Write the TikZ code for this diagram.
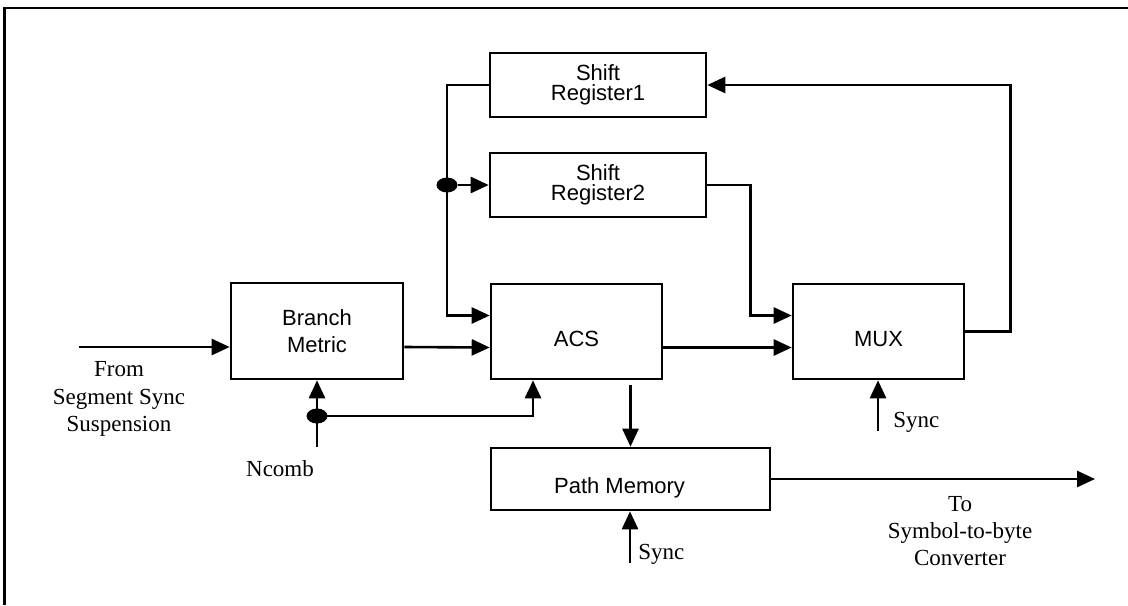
\documentclass[tikz,border=0pt]{standalone}
\usepackage{fontspec}
\setmainfont{Liberation Serif}
\setsansfont{Liberation Sans}
\usetikzlibrary{arrows.meta}
\usetikzlibrary{shapes.geometric}

\tikzset{
  blk/.style={draw, line width=1.3pt, inner sep=0pt, align=center, font=\sffamily\fontsize{11}{13.5}\selectfont},
  lowtxt/.style={text height=14.5pt, text depth=0pt},
  srblk/.style={blk, minimum width=108pt, minimum height=32pt, font=\sffamily\fontsize{11}{10.2}\selectfont},
  lbl/.style={align=center, inner sep=0pt, font=\fontsize{11.5}{13.7}\selectfont},
  wire/.style={line width=1.3pt},
  arr/.style={wire, -{Triangle[length=9pt,width=8pt]}},
  dot/.style={ellipse, fill, inner sep=0pt, minimum width=10.5pt, minimum height=7.5pt}
}

\begin{document}
\begin{tikzpicture}[x=0.5pt,y=-0.5pt]
\useasboundingbox (0,0) rectangle (1128,605);
\draw[line width=1.4pt] (4.5,605) -- (4.5,8) -- (1128,8);

\node[srblk] (sr1) at (598,85) {Shift\\Register1};
\node[srblk] (sr2) at (598,185) {Shift\\Register2};
\node[blk, minimum width=86pt, minimum height=48pt] (bm) at (317,331) {Branch\\Metric};
\node[blk, lowtxt, minimum width=85.5pt, minimum height=47.5pt] (acs) at (576.5,331.5) {ACS};
\node[blk, lowtxt, minimum width=85.5pt, minimum height=47.5pt] (mux) at (878.5,331.5) {MUX};
\node[blk, lowtxt, minimum width=139.5pt, minimum height=31pt] (pm) at (630.5,479) {Path Memory\hspace*{11pt}};

\coordinate (src) at (79,347);
\coordinate (ncomb) at (317,447);
\coordinate (muxsync) at (878,431);
\coordinate (pmsync) at (630,563);
\coordinate (dst) at (1095,479);
\node[dot] (tap1) at (447,185) {};
\node[dot] (tap2) at (317,416) {};

\draw[arr] (src) -- (src -| bm.west);
\draw[arr] ([yshift=-8pt]bm.east) -- ([yshift=-8pt]acs.west);
\draw[arr] ([yshift=-8pt]acs.east) -- ([yshift=-8pt]mux.west);
\draw[arr] (sr1.west) -| (tap1.center) |- ([yshift=8pt]acs.west);
\draw[arr] (tap1) -- (sr2.west);
\draw[arr] (sr2.east) -- ++(43,0) |- ([yshift=8pt]mux.west);
\draw[arr] (mux.east) -- ++(45,0) |- (sr1.east);
\draw[arr] (ncomb) -- (bm.south);
\draw[arr] (tap2.center) -| ([xshift=-21.75pt]acs.south);
\draw[arr] ([yshift=-2.5pt]acs.south -| pm.north) -- (pm.north);
\draw[arr] (muxsync) -- (muxsync |- mux.south);
\draw[arr] (pmsync) -- (pmsync |- pm.south);
\draw[arr] (pm.east) -- (dst);

\node[lbl] (fromlbl) at (119,399) {From\\Segment Sync\\Suspension};
\node[lbl] (ncomblbl) at (280,469) {Ncomb};
\node[lbl, anchor=west] (muxsynclbl) at (893,422) {Sync};
\node[lbl, anchor=west] (pmsynclbl) at (638,554) {Sync};
\node[lbl] (tolbl) at (960,531) {To\\Symbol-to-byte\\Converter};
\end{tikzpicture}
\end{document}
